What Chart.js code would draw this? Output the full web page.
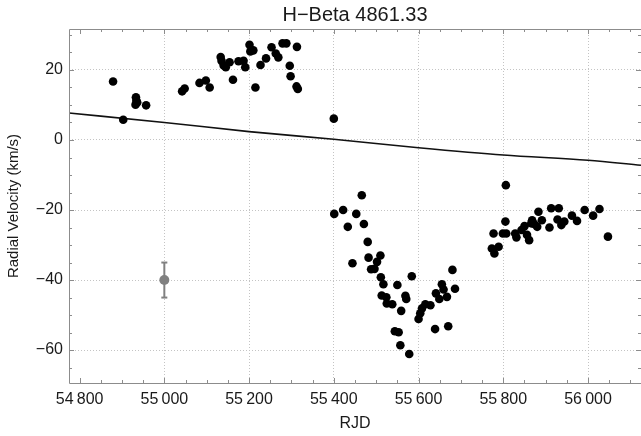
<!DOCTYPE html>
<html>
<head>
<meta charset="utf-8">
<script src="https://cdn.jsdelivr.net/npm/chart.js@4.4.0/dist/chart.umd.min.js"></script>
<style>
  html, body { margin: 0; padding: 0; background: #fff; }
</style>
</head>
<body>
<canvas id="rvChart" width="641" height="436"></canvas>
<script>
const rjd = [
    54879, 54903, 54933, 54934, 54932, 54936, 54957, 55042, 55048, 55083,
    55098, 55107, 55133, 55135, 55140, 55145, 55154, 55162, 55175, 55187,
    55191, 55201, 55203, 55210, 55215, 55227, 55240, 55253, 55263, 55269,
    55279, 55288, 55296, 55298, 55312, 55313, 55315, 55400,
    55401, 55422, 55433, 55444, 55453, 55466, 55471, 55480, 55482, 55488,
    55496, 55502, 55510, 55511, 55513, 55517, 55524, 55525, 55538, 55544,
    55550, 55553, 55557, 55559, 55569, 55571, 55578, 55584, 55600, 55604,
    55608, 55616, 55628, 55639, 55641, 55649, 55655, 55659, 55667, 55670,
    55680, 55686,
    55773, 55779, 55789, 55777, 55799, 55805, 55806, 55807, 55828, 55831,
    55843, 55850, 55856, 55861, 55866, 55868, 55873, 55880, 55883, 55891,
    55909, 55913, 55928, 55931, 55937, 55944, 55962, 55974, 55992, 56012,
    56027, 56047
];
const velocity = [
    16.7, 5.8, 12.2, 11.3, 10.1, 10.7, 9.9, 13.9, 14.7, 16.3,
    17.0, 15.0, 23.7, 22.6, 21.3, 20.8, 22.2, 17.2, 22.5, 22.6,
    20.8, 27.2, 25.3, 25.6, 15.0, 21.4, 23.3, 26.5, 24.7, 23.6,
    27.6, 27.6, 21.2, 18.2, 15.3, 26.6, 14.6, 6.1,
    -21.1, -20.0, -24.8, -35.2, -21.1, -15.8, -24.0, -29.1, -33.6, -36.9,
    -36.8, -34.8, -33.0, -39.2, -44.4, -41.2, -44.9, -46.7, -46.9, -54.6,
    -41.4, -54.9, -58.6, -48.8, -44.5, -45.4, -61.1, -38.9, -51.1, -49.5,
    -48.1, -46.9, -47.2, -54.0, -43.8, -45.4, -41.2, -42.7, -44.8, -53.2,
    -37.1, -42.5,
    -31.0, -32.4, -30.5, -26.7, -26.7, -23.3, -12.9, -26.7, -26.7, -27.8,
    -25.7, -24.6, -27.1, -28.6, -23.8, -22.9, -24.0, -24.8, -20.5, -22.9,
    -25.0, -19.5, -22.7, -19.5, -24.3, -23.3, -21.6, -23.1, -20.0, -21.6,
    -19.7, -27.6
];

// fitted curve
const fitRjd = [54775, 55000, 55200, 55400, 55600, 55800, 56000, 56125];
const fitVelocity = [7.7, 5.0, 2.4, 0.2, -2.2, -4.3, -5.8, -7.2];

// typical error bar
const errRjd = [55000];
const errVelocity = [-40];
const errSize = [5];

const xTicks = [54800, 55000, 55200, 55400, 55600, 55800, 56000];
const yTicks = [-60, -40, -20, 0, 20];

const FONT = "'Liberation Sans', Arial, sans-serif";
const GRAY = '#808080';

function fmtX(v) {
    const s = String(v);
    return s.slice(0, s.length - 3) + '\u2009' + s.slice(-3);
}

// frame and the small inward ticks
const framePlugin = {
    id: 'frame',
    afterDatasetsDraw(chart) {
        const ctx = chart.ctx;
        const a = chart.chartArea;
        const xs = chart.scales.x;
        const ys = chart.scales.y;
        ctx.save();
        ctx.strokeStyle = '#8c8c8c';
        ctx.lineWidth = 1;
        ctx.beginPath();
        ctx.rect(a.left + 0.5, a.top + 0.5, a.right - a.left, a.bottom - a.top);
        for (let v = 54800; v <= xs.max; v += 50) {
            const px = Math.round(xs.getPixelForValue(v)) + 0.5;
            const len = v % 200 === 0 ? 5 : 3;
            ctx.moveTo(px, a.bottom);
            ctx.lineTo(px, a.bottom - len);
            ctx.moveTo(px, a.top);
            ctx.lineTo(px, a.top + len);
        }
        for (let v = -65; v <= ys.max; v += 5) {
            const py = Math.round(ys.getPixelForValue(v)) + 0.5;
            const len = v % 20 === 0 ? 5 : 3;
            ctx.moveTo(a.left, py);
            ctx.lineTo(a.left + len, py);
            ctx.moveTo(a.right, py);
            ctx.lineTo(a.right - len, py);
        }
        ctx.stroke();
        ctx.restore();
    }
};

const points = rjd.map((x, i) => ({ x: x, y: velocity[i] }));
const fit = fitRjd.map((x, i) => ({ x: x, y: fitVelocity[i] }));
const errBar = [];
errRjd.forEach((x, i) => {
    errBar.push({ x: x, y: errVelocity[i] + errSize[i] });
    errBar.push({ x: x, y: errVelocity[i] - errSize[i] });
});
const errPoint = errRjd.map((x, i) => ({ x: x, y: errVelocity[i] }));

const chart = new Chart(document.getElementById('rvChart'), {
    type: 'scatter',
    data: {
        datasets: [
            {
                label: 'RV',
                data: points,
                backgroundColor: '#000',
                borderColor: '#000',
                pointRadius: 4.3,
                borderWidth: 0
            },
            {
                label: 'fit',
                data: fit,
                showLine: true,
                borderColor: '#111',
                borderWidth: 1.6,
                pointRadius: 0,
                cubicInterpolationMode: 'monotone'
            },
            {
                label: 'error point',
                data: errPoint,
                backgroundColor: GRAY,
                borderColor: GRAY,
                pointRadius: 5,
                borderWidth: 0
            },
            {
                label: 'error bar',
                data: errBar,
                showLine: true,
                borderColor: GRAY,
                borderWidth: 2,
                pointStyle: 'line',
                pointRadius: 3,
                pointBorderWidth: 2,
                pointBorderColor: GRAY
            }
        ]
    },
    options: {
        responsive: false,
        animation: false,
        devicePixelRatio: 1,
        layout: { autoPadding: false, padding: { left: 0, right: 0, top: 0, bottom: 0 } },
        plugins: {
            legend: { display: false },
            tooltip: { enabled: false },
            title: {
                display: true,
                fullSize: false,
                text: 'H\u2212Beta 4861.33',
                color: '#1a1a1a',
                font: { family: FONT, size: 20, weight: 'normal' },
                padding: { top: 3, bottom: 2 }
            }
        },
        scales: {
            x: {
                type: 'linear',
                min: 54775,
                max: 56125,
                afterBuildTicks: scale => { scale.ticks = xTicks.map(v => ({ value: v })); },
                afterFit: scale => {
                    scale.height = 53;
                    scale.paddingLeft = 0;
                    scale.paddingRight = 0;
                },
                ticks: {
                    color: '#1a1a1a',
                    font: { family: FONT, size: 16 },
                    padding: 7,
                    maxRotation: 0,
                    autoSkip: false,
                    callback: v => fmtX(v)
                },
                grid: {
                    color: ctx => (ctx.tick && ctx.tick.value === 54800) ? 'rgba(0,0,0,0)' : '#c4c4c4',
                    lineWidth: 1,
                    drawTicks: false
                },
                border: { display: false, dash: [1, 2] },
                title: {
                    display: true,
                    text: 'RJD',
                    color: '#1a1a1a',
                    font: { family: FONT, size: 16 },
                    padding: { top: 0, bottom: 3 }
                }
            },
            y: {
                min: -69.4,
                max: 31.7,
                afterBuildTicks: scale => { scale.ticks = yTicks.map(v => ({ value: v })); },
                afterFit: scale => {
                    scale.width = 69;
                    scale.paddingTop = 0;
                    scale.paddingBottom = 0;
                },
                ticks: {
                    color: '#1a1a1a',
                    font: { family: FONT, size: 16 },
                    padding: 6,
                    callback: v => v < 0 ? '\u2212' + Math.abs(v) : String(v)
                },
                grid: {
                    color: '#c4c4c4',
                    lineWidth: 1,
                    drawTicks: false
                },
                border: { display: false, dash: [1, 2] },
                title: {
                    display: true,
                    text: 'Radial Velocity (km/s)',
                    color: '#1a1a1a',
                    font: { family: FONT, size: 15 },
                    padding: { top: 5, bottom: 0 }
                }
            }
        }
    },
    plugins: [framePlugin]
});
</script>
</body>
</html>
